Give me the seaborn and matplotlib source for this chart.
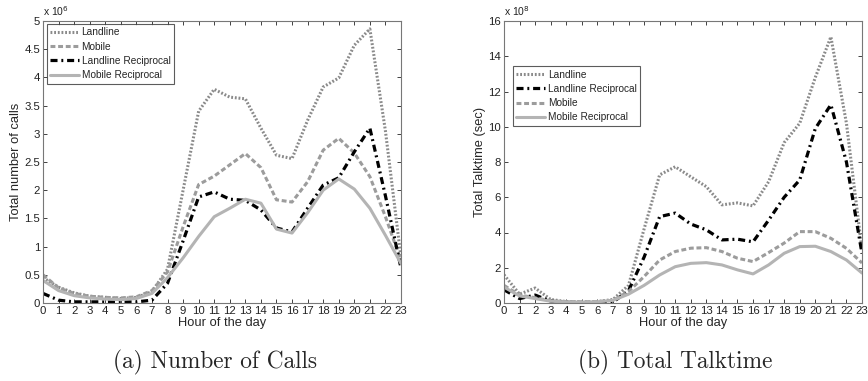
import matplotlib
matplotlib.use("Agg")
import matplotlib.pyplot as plt
import seaborn as sns
import numpy as np

sns.set_style("ticks")
plt.rcParams['font.family'] = ['Liberation Sans', 'DejaVu Sans']

hours = list(range(24))

# (a) Number of calls, in units of 1e6
calls_landline = [0.45, 0.28, 0.18, 0.12, 0.10, 0.08, 0.10, 0.20, 0.60, 2.00, 3.40, 3.79,
                  3.65, 3.62, 3.10, 2.62, 2.56, 3.24, 3.83, 3.99, 4.57, 4.86, 3.05, 0.80]
calls_mobile = [0.50, 0.27, 0.17, 0.12, 0.10, 0.09, 0.11, 0.22, 0.55, 1.35, 2.10, 2.25,
                2.45, 2.65, 2.40, 1.83, 1.79, 2.15, 2.71, 2.92, 2.66, 2.24, 1.53, 0.75]
calls_landline_rec = [0.17, 0.05, 0.02, 0.02, 0.02, 0.02, 0.02, 0.05, 0.35, 1.10, 1.88, 1.97,
                      1.84, 1.82, 1.65, 1.33, 1.26, 1.68, 2.09, 2.22, 2.68, 3.10, 1.90, 0.62]
calls_mobile_rec = [0.40, 0.22, 0.13, 0.09, 0.07, 0.06, 0.08, 0.17, 0.45, 0.80, 1.18, 1.53,
                    1.68, 1.84, 1.77, 1.31, 1.24, 1.60, 2.00, 2.20, 2.02, 1.68, 1.20, 0.70]

# (b) Total talktime (sec), in units of 1e8
talk_landline = [1.60, 0.50, 0.85, 0.20, 0.08, 0.06, 0.08, 0.20, 1.00, 4.20, 7.27, 7.73,
                 7.16, 6.60, 5.57, 5.68, 5.51, 6.88, 9.10, 10.20, 12.80, 15.10, 10.20, 3.00]
talk_landline_rec = [0.75, 0.25, 0.45, 0.10, 0.03, 0.02, 0.02, 0.05, 0.70, 2.60, 4.90, 5.10,
                     4.48, 4.15, 3.58, 3.62, 3.47, 4.70, 6.00, 6.98, 9.90, 11.25, 8.00, 2.80]
talk_mobile = [1.00, 0.45, 0.30, 0.12, 0.08, 0.07, 0.08, 0.15, 0.65, 1.50, 2.44, 2.92,
               3.11, 3.14, 2.92, 2.54, 2.35, 2.86, 3.40, 4.05, 4.05, 3.67, 3.10, 2.27]
talk_mobile_rec = [0.90, 0.40, 0.25, 0.10, 0.06, 0.05, 0.07, 0.15, 0.50, 1.00, 1.59, 2.06,
                   2.25, 2.29, 2.16, 1.88, 1.65, 2.16, 2.82, 3.20, 3.22, 2.92, 2.44, 1.70]

styles = {
    'Landline': dict(color='#8a8a8a', linestyle=(0, (0.6, 0.6)), linewidth=2.2),
    'Mobile': dict(color='#9c9c9c', linestyle=(0, (1.6, 0.9)), linewidth=2.2),
    'Landline Reciprocal': dict(color='black', linestyle=(0, (2.2, 1.2, 0.6, 1.2)), linewidth=2.3),
    'Mobile Reciprocal': dict(color='#b4b4b4', linestyle='-', linewidth=2.2),
}

W, H = 868, 381
fig = plt.figure(figsize=(W / 100, H / 100), dpi=100)
axA = fig.add_axes([43 / W, 1 - 303 / H, 358 / W, 282 / H])
axB = fig.add_axes([504 / W, 1 - 303 / H, 358 / W, 282 / H])

seriesA = [('Landline', calls_landline), ('Mobile', calls_mobile),
           ('Landline Reciprocal', calls_landline_rec), ('Mobile Reciprocal', calls_mobile_rec)]
seriesB = [('Landline', talk_landline), ('Landline Reciprocal', talk_landline_rec),
           ('Mobile', talk_mobile), ('Mobile Reciprocal', talk_mobile_rec)]

for ax, series in [(axA, seriesA), (axB, seriesB)]:
    for name, vals in series:
        sns.lineplot(x=hours, y=vals, ax=ax, label=name, **styles[name])

def style_axes(ax, yticks, ylabel, exp):
    ax.set_xlim(0, 23)
    ax.set_ylim(yticks[0], yticks[-1])
    ax.set_xticks(hours)
    ax.set_yticks(yticks)
    ax.set_yticklabels([('%g' % t) for t in yticks])
    ax.tick_params(direction='in', length=3, width=0.6, labelsize=8.2, colors='#222222',
                   top=True, right=True, pad=2)
    for sp in ax.spines.values():
        sp.set_visible(True)
        sp.set_color('#777777')
        sp.set_linewidth(0.8)
    ax.set_xlabel('Hour of the day', fontsize=9.3, labelpad=1)
    ax.set_ylabel(ylabel, fontsize=9.3, labelpad=2)
    ax.text(0.0, 1.01, r'x 10$^{%d}$' % exp, transform=ax.transAxes, fontsize=7.5,
            ha='left', va='bottom', color='#222222')

style_axes(axA, [0, 0.5, 1, 1.5, 2, 2.5, 3, 3.5, 4, 4.5, 5], 'Total number of calls', 6)
style_axes(axB, [0, 2, 4, 6, 8, 10, 12, 14, 16], 'Total Talktime (sec)', 8)

for ax, loc, anchor in [(axA, 'upper left', (0.01, 0.99)), (axB, 'upper left', (0.025, 0.84))]:
    leg = ax.legend(loc=loc, bbox_to_anchor=anchor, fontsize=7.3, frameon=True, fancybox=False,
                    borderpad=0.35, labelspacing=0.42, handlelength=2.8, handletextpad=0.3,
                    borderaxespad=0.0)
    leg.get_frame().set_edgecolor('#333333')
    leg.get_frame().set_linewidth(0.8)

fig.text(215 / W, 1 - 362 / H, '(a) Number of Calls', family='cmr10', fontsize=16.8,
         ha='center', va='center')
fig.text(675 / W, 1 - 362 / H, '(b) Total Talktime', family='cmr10', fontsize=16.8,
         ha='center', va='center')

fig.savefig('out.png', dpi=100)
